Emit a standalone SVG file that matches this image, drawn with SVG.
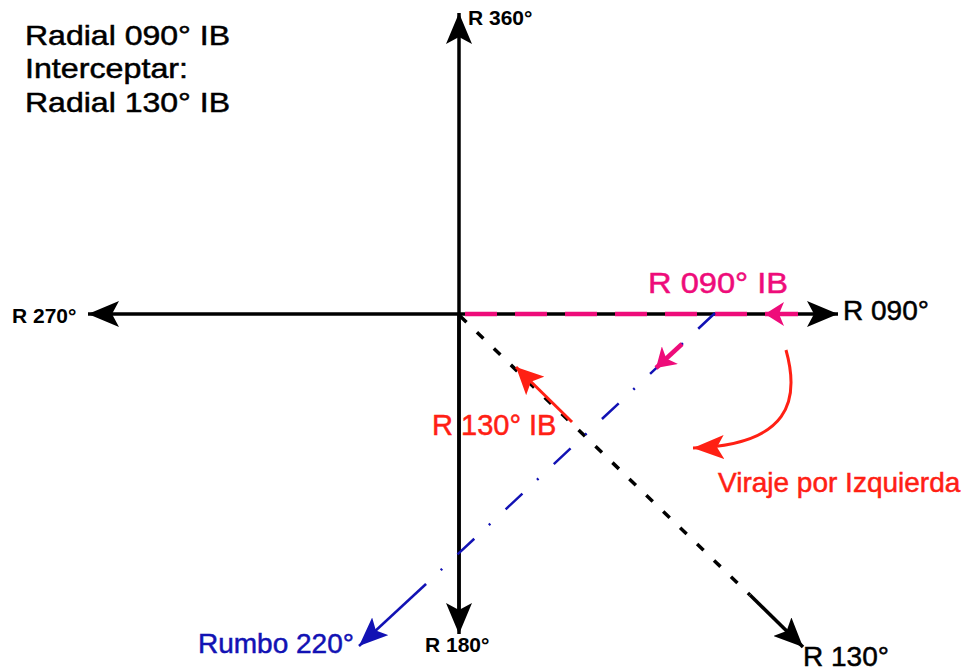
<svg xmlns="http://www.w3.org/2000/svg" width="969" height="671" viewBox="0 0 969 671">
<style>
.t{font-family:"Liberation Sans",Arial,sans-serif;stroke-width:0.5;}
.big{font-size:28px;fill:#000;stroke:#000;}
.lab{font-size:21px;font-weight:bold;fill:#000;}
.ax{stroke:#000;stroke-width:3.5;fill:none;}
.mag{stroke:#ee0c7a;stroke-width:4.5;fill:none;}
.red{stroke:#ff2014;stroke-width:3;fill:none;}
.blue{stroke:#1212b4;stroke-width:2.5;fill:none;}
</style>
<defs>
<marker id="hb" markerUnits="userSpaceOnUse" markerWidth="32" markerHeight="26" refX="31" refY="13" orient="auto" viewBox="0 0 32 26"><path d="M0,0 L31,13 L0,26 L7,13 Z" fill="#000"/></marker>
<marker id="hbd" markerUnits="userSpaceOnUse" markerWidth="30" markerHeight="26" refX="29" refY="13" orient="auto" viewBox="0 0 30 26"><path d="M0,0 L29,13 L0,26 L6,13 Z" fill="#000"/></marker>
<marker id="hm" markerUnits="userSpaceOnUse" markerWidth="20" markerHeight="24" refX="19" refY="12" orient="auto" viewBox="0 0 20 24"><path d="M0,0 L19,12 L0,24 L5,12 Z" fill="#ee0c7a"/></marker>
<marker id="hr" markerUnits="userSpaceOnUse" markerWidth="28" markerHeight="26" refX="27" refY="13" orient="auto" viewBox="0 0 28 26"><path d="M0,0 L27,13 L0,26 L6,13 Z" fill="#ff2014"/></marker>
<marker id="hr2" markerUnits="userSpaceOnUse" markerWidth="32" markerHeight="24" refX="31" refY="12" orient="auto" viewBox="0 0 32 24"><path d="M0,0 L31,12 L0,24 L7,12 Z" fill="#ff2014"/></marker>
<marker id="hbl" markerUnits="userSpaceOnUse" markerWidth="30" markerHeight="24" refX="29" refY="12" orient="auto" viewBox="0 0 30 24"><path d="M0,0 L29,12 L0,24 L6,12 Z" fill="#1212b4"/></marker>
</defs>

<g id="connectors">
  <line class="ax" x1="459" y1="628" x2="459" y2="13" marker-end="url(#hb)"/>
  <line class="ax" x1="459" y1="314" x2="459" y2="634" marker-end="url(#hb)"/>
  <line class="ax" x1="459" y1="314" x2="88" y2="314" marker-end="url(#hb)"/>
  <line class="ax" x1="459" y1="314" x2="838" y2="314" marker-end="url(#hb)"/>
  <line class="mag" x1="465" y1="314" x2="749" y2="314" stroke-dasharray="32 18"/>
  <line class="mag" x1="798" y1="314" x2="765" y2="314" marker-end="url(#hm)"/>
  <line class="ax" x1="460" y1="316" x2="750" y2="595" stroke-dasharray="9 14.5"/>
  <line class="ax" x1="750" y1="595" x2="803" y2="647" marker-end="url(#hbd)"/>
  <line class="blue" x1="715" y1="313" x2="426" y2="584" stroke-dasharray="23 21 2 20"/>
  <line class="blue" x1="426" y1="584" x2="359" y2="646" marker-end="url(#hbl)"/>
  <line class="mag" x1="682" y1="344" x2="656" y2="368" stroke-width="4" marker-end="url(#hm)"/>
  <line class="red" x1="572" y1="422" x2="516" y2="367" marker-end="url(#hr)"/>
  <path class="red" d="M786,350 C800,400 790,445 693,448" marker-end="url(#hr2)"/>
</g>

<g id="title">
  <text class="t big" x="25" y="45" textLength="205" lengthAdjust="spacingAndGlyphs">Radial 090° IB</text>
  <text class="t big" x="25" y="78" textLength="163" lengthAdjust="spacingAndGlyphs">Interceptar:</text>
  <text class="t big" x="25" y="112" textLength="205" lengthAdjust="spacingAndGlyphs">Radial 130° IB</text>
</g>
<g id="label-r360"><text class="t lab" x="468" y="25">R 360°</text></g>
<g id="label-r270"><text class="t lab" x="12" y="323">R 270°</text></g>
<g id="label-r180"><text class="t lab" x="425" y="652">R 180°</text></g>
<g id="label-r090"><text class="t big" x="843" y="320">R 090°</text></g>
<g id="label-r130"><text class="t big" x="803" y="666">R 130°</text></g>
<g id="label-r090ib"><text class="t" x="648" y="293" font-size="30" fill="#ee0c7a" stroke="#ee0c7a" textLength="140" lengthAdjust="spacingAndGlyphs">R 090° IB</text></g>
<g id="label-r130ib"><text class="t" x="432" y="435" font-size="29" fill="#ff2014" stroke="#ff2014">R 130° IB</text></g>
<g id="label-viraje"><text class="t" x="718" y="492" font-size="28" fill="#ff2014" stroke="#ff2014">Viraje por Izquierda</text></g>
<g id="label-rumbo"><text class="t" x="198" y="653" font-size="28" fill="#1212b4" stroke="#1212b4">Rumbo 220°</text></g>
</svg>
